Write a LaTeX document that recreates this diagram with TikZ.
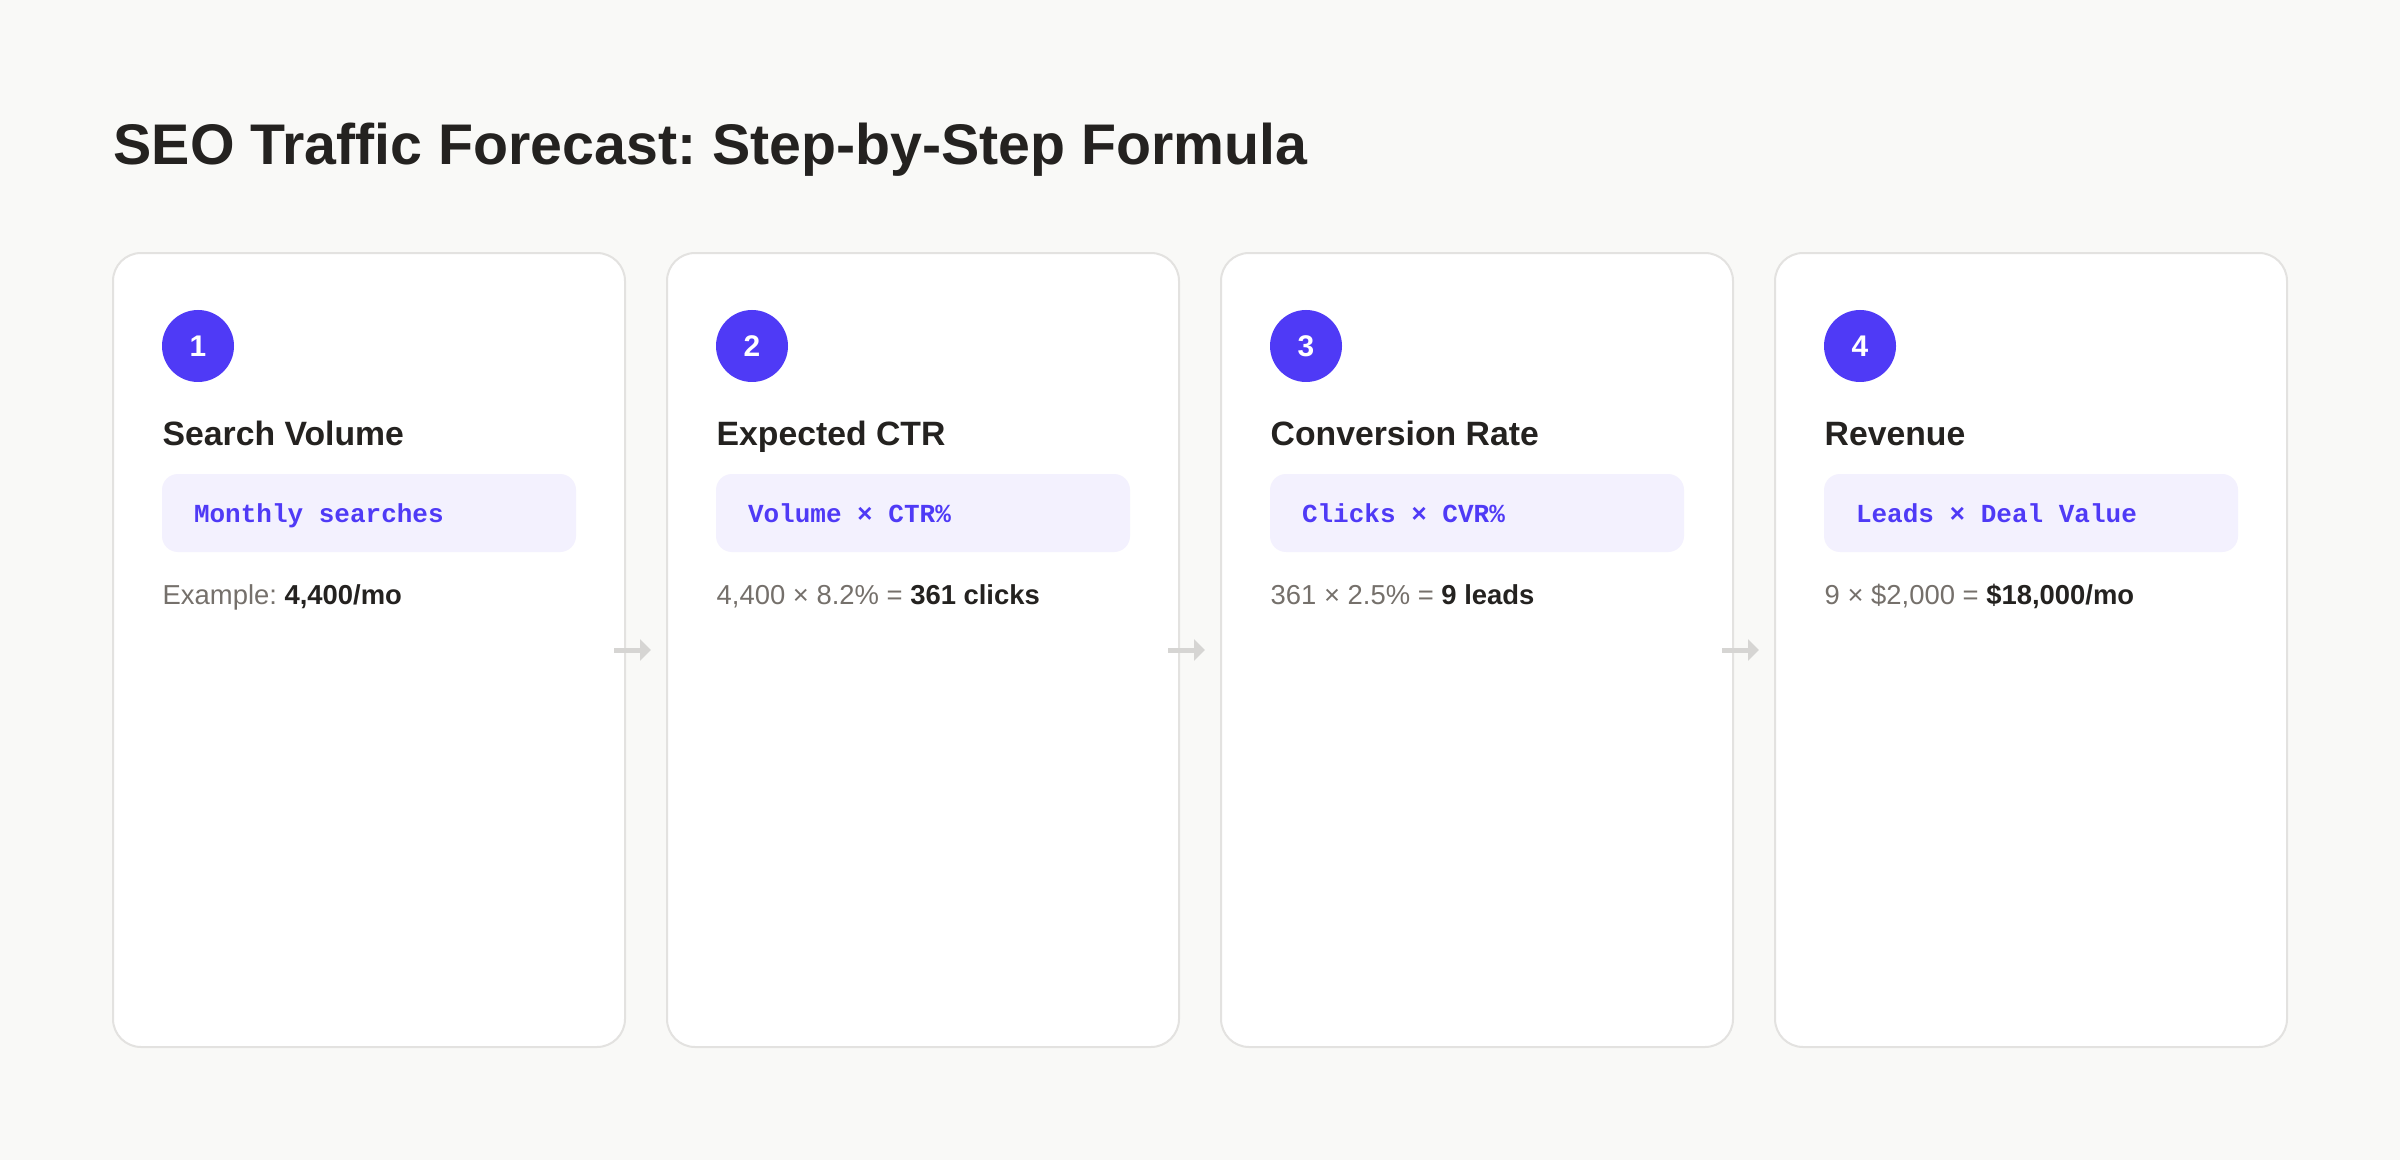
\documentclass[tikz,border=0pt]{standalone}
\usepackage{fontspec}
\setmainfont{Liberation Sans}
\setmonofont{Liberation Mono}
\usepackage{tikz}
\usetikzlibrary{shapes, backgrounds, arrows.meta}
\definecolor{paper}{HTML}{F9F9F7}
\definecolor{cardline}{HTML}{E3E2E0}
\definecolor{violet}{HTML}{4F3AF6}
\definecolor{codefill}{HTML}{F3F1FE}
\definecolor{ink}{HTML}{242220}
\definecolor{muted}{HTML}{75706B}
\definecolor{flowgray}{HTML}{D6D5D3}
\frenchspacing
\newcommand{\monogap}{\hphantom{0}}

\begin{document}
\begin{tikzpicture}[x=0.1mm, y=-0.1mm,
  card/.style={rectangle, rounded corners=2.8mm, draw=cardline, line width=0.2mm, fill=white, minimum width=51.2mm, minimum height=79.4mm},
  badge/.style={circle, fill=violet, text=white, inner sep=0pt, minimum size=7.2mm, font=\fontsize{8.5pt}{10pt}\selectfont\bfseries},
  heading/.style={anchor=base west, inner sep=0pt, text=ink, font=\fontsize{9.6pt}{11pt}\selectfont\bfseries},
  formula/.style={rectangle, rounded corners=1.6mm, fill=codefill, text=violet, minimum width=41.4mm, minimum height=7.8mm, inner xsep=3.2mm, text width=35mm, text height=2.2mm, text depth=0.4mm, align=left, font=\fontsize{7.4pt}{9pt}\selectfont\ttfamily\bfseries},
  example/.style={anchor=base west, inner sep=0pt, text=muted, font=\fontsize{7.8pt}{9pt}\selectfont},
  flow/.style={draw=flowgray, line width=0.5mm, -{Triangle[length=1.1mm, width=2.1mm]}}]
  \fill[paper] (0,0) rectangle (2400,1160);
  \useasboundingbox (0,0) rectangle (2400,1160);
  \node[anchor=base west, inner sep=0pt, text=ink, font=\fontsize{16.3pt}{19pt}\selectfont\bfseries] (title) at (113,165) {SEO Traffic Forecast: Step-by-Step Formula};

  % step 1
  \node[card] (card1) at (369,650) {};
  \node[badge] (num1) at (198,346) {1};
  \node[heading] (head1) at (162,445) {Search Volume};
  \node[formula] (form1) at (369,513) {Monthly\monogap searches};
  \node[example] (ex1) at (162,604) {Example: \textcolor{ink}{\bfseries 4,400/mo}};

  % step 2
  \node[card] (card2) at (923,650) {};
  \node[badge] (num2) at (752,346) {2};
  \node[heading] (head2) at (716,445) {Expected CTR};
  \node[formula] (form2) at (923,513) {Volume\monogap×\monogap CTR\%};
  \node[example] (ex2) at (716,604) {4,400 × 8.2\% = \textcolor{ink}{\bfseries 361 clicks}};

  % step 3
  \node[card] (card3) at (1477,650) {};
  \node[badge] (num3) at (1306,346) {3};
  \node[heading] (head3) at (1270,445) {Conversion Rate};
  \node[formula] (form3) at (1477,513) {Clicks\monogap×\monogap CVR\%};
  \node[example] (ex3) at (1270,604) {361 × 2.5\% = \textcolor{ink}{\bfseries 9 leads}};

  % step 4
  \node[card] (card4) at (2031,650) {};
  \node[badge] (num4) at (1860,346) {4};
  \node[heading] (head4) at (1824,445) {Revenue};
  \node[formula] (form4) at (2031,513) {Leads\monogap×\monogap Deal\monogap Value};
  \node[example] (ex4) at (1824,604) {9 × \$2,000 = \textcolor{ink}{\bfseries \$18,000/mo}};

  % arrows between steps
  \draw[flow] ([xshift=-1.2mm]card1.east) -- ([xshift=-1.5mm]card2.west);
  \draw[flow] ([xshift=-1.2mm]card2.east) -- ([xshift=-1.5mm]card3.west);
  \draw[flow] ([xshift=-1.2mm]card3.east) -- ([xshift=-1.5mm]card4.west);
\end{tikzpicture}
\end{document}
